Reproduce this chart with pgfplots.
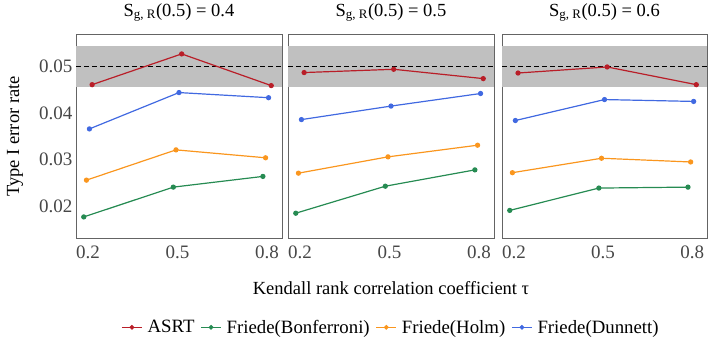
\documentclass[border=0pt]{standalone}
\usepackage{fontspec}
\setmainfont{Liberation Serif}
\usepackage{pgfplots}
\usepackage{pgfplotstable}
\pgfplotsset{compat=1.18}

\definecolor{cASRT}{RGB}{185,30,40}
\definecolor{cBonf}{RGB}{38,139,82}
\definecolor{cHolm}{RGB}{250,150,30}
\definecolor{cDunn}{RGB}{65,105,225}
\definecolor{band}{RGB}{192,192,192}
\definecolor{frame}{RGB}{100,100,100}

% Type I error rates; columns: tau, ASRT, Bonferroni, Holm, Dunnett
\pgfplotstableread{
tau  asrt    bonf    holm    dunn
0.2  0.0461  0.0177  0.0256  0.0366
0.5  0.0527  0.0241  0.0321  0.0444
0.8  0.0459  0.0264  0.0304  0.0433
}\panelA
\pgfplotstableread{
tau  asrt    bonf    holm    dunn
0.2  0.0487  0.0185  0.0271  0.0386
0.5  0.0494  0.0243  0.0306  0.0415
0.8  0.0474  0.0278  0.0331  0.0442
}\panelB
\pgfplotstableread{
tau  asrt    bonf    holm    dunn
0.2  0.0486  0.0191  0.0272  0.0384
0.5  0.0499  0.0239  0.0303  0.0429
0.8  0.0461  0.0241  0.0295  0.0425
}\panelC

\pgfplotsset{
  facet/.style={
    scale only axis, anchor=south west,
    width=206pt, height=204pt,
    xmin=0.16, xmax=0.85, ymin=0.0131, ymax=0.0569,
    xtick={0.2,0.5,0.8}, ytick={0.02,0.03,0.04,0.05},
    scaled y ticks=false, scaled x ticks=false,
    /pgf/number format/assume math mode=true,
    xticklabel style={/pgf/number format/fixed, /pgf/number format/precision=1, anchor=base, yshift=-20pt},
    yticklabel style={/pgf/number format/fixed, /pgf/number format/fixed zerofill, /pgf/number format/precision=2},
    tick label style={font=\fontsize{19}{19}\selectfont, text=black!72},
    major tick length=0pt,
    axis line style={frame, line width=0.9pt},
    title style={at={(axis description cs:0.5,1.078)}, anchor=center, font=\fontsize{18.5}{18.5}\selectfont},
    every axis plot/.append style={line width=1.2pt},
    clip=false,
  },
  ser/.style={#1, mark=*, mark size=2pt, mark options={solid}},
}

\newcommand{\facetbody}[1]{%
  \addplot[draw=none, fill=band, forget plot] coordinates {(0.16,0.0457) (0.85,0.0457) (0.85,0.0543) (0.16,0.0543)} -- cycle;
  \addplot[black, line width=1.1pt, dash pattern=on 5pt off 3pt, forget plot] coordinates {(0.16,0.05) (0.85,0.05)};
  \addplot[ser=cASRT] table[x expr=\thisrow{tau}+0.014, y=asrt] {#1};
  \addplot[ser=cBonf] table[x expr=\thisrow{tau}-0.014, y=bonf] {#1};
  \addplot[ser=cHolm] table[x expr=\thisrow{tau}-0.005, y=holm] {#1};
  \addplot[ser=cDunn] table[x expr=\thisrow{tau}+0.005, y=dunn] {#1};
}

\begin{document}
\begin{tikzpicture}[x=1pt,y=1pt]
\path (0,0) rectangle (709,335);

\begin{axis}[facet, at={(76pt,102pt)},
  title={S\textsubscript{g, R}(0.5) = 0.4},
  ylabel={Type I error rate},
  ylabel style={at={(axis description cs:-0.296,0.5)}, anchor=center, rotate=0, font=\fontsize{18.5}{18.5}\selectfont}]
\facetbody{\panelA}
\end{axis}

\begin{axis}[facet, at={(288pt,102pt)},
  title={S\textsubscript{g, R}(0.5) = 0.5},
  yticklabels={},
  xlabel={Kendall rank correlation coefficient τ},
  xlabel style={at={(axis description cs:0.5,-0.245)}, anchor=center, font=\fontsize{18.5}{18.5}\selectfont},
  legend columns=4,
  legend style={at={(axis description cs:0.5,-0.436)}, anchor=center, draw=none, fill=none,
    font=\fontsize{18.8}{18.8}\selectfont,
    /tikz/every odd column/.append style={column sep=3pt},
    /tikz/every even column/.append style={column sep=4pt}},
  legend image code/.code={\draw[#1, mark size=1.7pt, mark repeat=2, mark phase=2] plot coordinates {(0pt,0pt) (10pt,0pt) (20pt,0pt)};}]
\facetbody{\panelB}
\legend{ASRT, Friede(Bonferroni), Friede(Holm), Friede(Dunnett)}
\end{axis}

\begin{axis}[facet, at={(502pt,102pt)}, width=205pt,
  title={S\textsubscript{g, R}(0.5) = 0.6},
  yticklabels={}]
\facetbody{\panelC}
\end{axis}
\end{tikzpicture}
\end{document}
